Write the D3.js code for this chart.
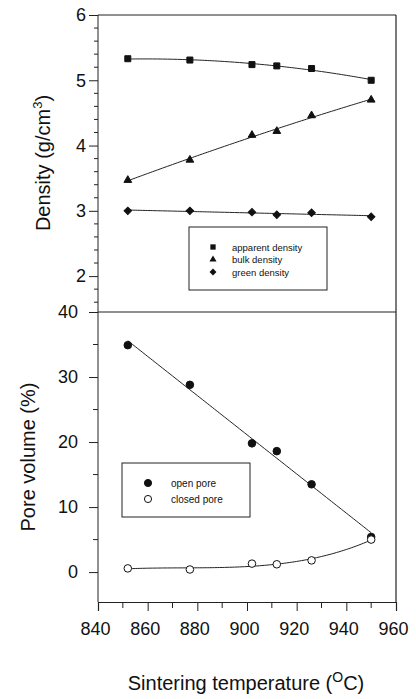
<!DOCTYPE html>
<html><head><meta charset="utf-8">
<script src="https://cdn.jsdelivr.net/npm/d3@7"></script>
<style>body{margin:0;background:#fff}svg{display:block}text{font-family:"Liberation Sans",Arial,sans-serif;fill:#111}</style>
</head><body>
<script>
const temps = [852, 877, 902, 912, 926, 950];
const apparentDensity = [5.33, 5.31, 5.24, 5.22, 5.18, 5.00];
const bulkDensity = [3.47, 3.78, 4.16, 4.22, 4.46, 4.70];
const greenDensity = [3.00, 3.00, 2.98, 2.94, 2.97, 2.91];
const openPore = [34.9, 28.8, 19.8, 18.6, 13.5, 5.4];
const closedPore = [0.57, 0.4, 1.3, 1.2, 1.8, 5.0];
const xTicks = [840, 860, 880, 900, 920, 940, 960];
const densityTicks = [2, 3, 4, 5, 6];
const poreTicks = [0, 10, 20, 30, 40];

const W = 416, H = 699;
const svg = d3.select("body").append("svg").attr("width", W).attr("height", H);

const x = d3.scaleLinear().domain([840, 960]).range([98, 396]);
const yTop = d3.scaleLinear().domain([1.45, 6]).range([312, 15]);
const yBot = d3.scaleLinear().domain([-4.6, 40]).range([602, 312]);

function polyfit(xs, ys, deg) {
  const n = deg + 1;
  const t = xs.map(v => (v - 900) / 50);
  const A = Array.from({length: n}, () => new Array(n + 1).fill(0));
  for (let i = 0; i < t.length; i++) {
    for (let r = 0; r < n; r++) {
      for (let c = 0; c < n; c++) A[r][c] += Math.pow(t[i], r + c);
      A[r][n] += ys[i] * Math.pow(t[i], r);
    }
  }
  for (let p = 0; p < n; p++) {
    let m = p;
    for (let r = p + 1; r < n; r++) if (Math.abs(A[r][p]) > Math.abs(A[m][p])) m = r;
    [A[p], A[m]] = [A[m], A[p]];
    for (let r = 0; r < n; r++) {
      if (r === p) continue;
      const f = A[r][p] / A[p][p];
      for (let c = p; c <= n; c++) A[r][c] -= f * A[p][c];
    }
  }
  const coef = A.map((row, i) => row[n] / row[i]);
  return v => { const tt = (v - 900) / 50; return coef.reduce((s, c, i) => s + c * Math.pow(tt, i), 0); };
}

function fitLine(g, xs, ys, deg, y) {
  const f = polyfit(xs, ys, deg);
  const pts = d3.range(xs[0], xs[xs.length - 1] + 0.01, 1).map(v => [v, f(v)]);
  g.append("path").datum(pts)
    .attr("d", d3.line().x(d => x(d[0])).y(d => y(d[1])).curve(d3.curveLinear))
    .attr("fill", "none").attr("stroke", "#222").attr("stroke-width", 1);
}

const frame = "#222";
const g = svg.append("g");

// Frames
g.append("line").attr("x1", x(840)).attr("x2", x(960)).attr("y1", yTop(6)).attr("y2", yTop(6)).attr("stroke", frame).attr("stroke-width", 1.2);
g.append("line").attr("x1", x(960)).attr("x2", x(960)).attr("y1", yTop(6)).attr("y2", yBot(-4.6)).attr("stroke", frame).attr("stroke-width", 1.2);
g.append("line").attr("x1", x(840)).attr("x2", x(960)).attr("y1", 312).attr("y2", 312).attr("stroke", frame).attr("stroke-width", 1.2);

// Top Y axis
const axTop = g.append("g").attr("transform", `translate(${x(840)},0)`)
  .call(d3.axisLeft(yTop).tickValues(densityTicks).tickSize(9).tickPadding(3).tickFormat(d3.format("d")));
axTop.select(".domain").remove();
g.append("line").attr("x1", x(840)).attr("x2", x(840)).attr("y1", yTop(6)).attr("y2", 312).attr("stroke", frame);
const minorTop = d3.range(1.6, 6.0, 0.2).filter(v => Math.abs(v - Math.round(v)) > 0.05);
g.selectAll(".mt").data(minorTop).join("line")
  .attr("x1", x(840) - 4).attr("x2", x(840)).attr("y1", d => yTop(d)).attr("y2", d => yTop(d)).attr("stroke", frame);

// Bottom Y axis
const axBot = g.append("g").attr("transform", `translate(${x(840)},0)`)
  .call(d3.axisLeft(yBot).tickValues(poreTicks).tickSize(9).tickPadding(11).tickFormat(d3.format("d")));
axBot.select(".domain").remove();
g.append("line").attr("x1", x(840)).attr("x2", x(840)).attr("y1", 312).attr("y2", 602).attr("stroke", frame);
g.selectAll(".mb").data([5, 15, 25, 35]).join("line")
  .attr("x1", x(840) - 5).attr("x2", x(840)).attr("y1", d => yBot(d)).attr("y2", d => yBot(d)).attr("stroke", frame);

// X axis
const axX = g.append("g").attr("transform", `translate(0,602)`)
  .call(d3.axisBottom(x).tickValues(xTicks).tickSize(9).tickPadding(11).tickFormat(d3.format("d")));
axX.select(".domain").attr("stroke", frame).attr("stroke-width", 1.2);
g.selectAll(".mx").data(d3.range(850, 960, 20)).join("line")
  .attr("x1", d => x(d)).attr("x2", d => x(d)).attr("y1", 602).attr("y2", 608).attr("stroke", frame);

svg.selectAll(".tick text").attr("font-size", 18).attr("font-family", "Liberation Sans, Arial, sans-serif").attr("fill", "#111");
svg.selectAll(".tick line").attr("stroke", frame);
axX.selectAll(".tick text").attr("dx", -3);

// Top panel fit lines
fitLine(g, temps, apparentDensity, 2, yTop);
fitLine(g, temps, bulkDensity, 2, yTop);
fitLine(g, temps, greenDensity, 1, yTop);
// Bottom panel fit lines
fitLine(g, temps, openPore, 1, yBot);
fitLine(g, temps, closedPore, 3, yBot);

const sym = (type, size) => d3.symbol().type(type).size(size)();
function markers(vals, y, type, size, fill, rot) {
  g.append("g").selectAll("path").data(vals).join("path")
    .attr("transform", (d, i) => `translate(${x(temps[i])},${y(d)}) rotate(${rot || 0})`)
    .attr("d", sym(type, size)).attr("fill", fill).attr("stroke", "#111").attr("stroke-width", 1);
}
markers(apparentDensity, yTop, d3.symbolSquare, 36, "#111");
markers(bulkDensity, yTop, d3.symbolTriangle, 26, "#111");
markers(greenDensity, yTop, d3.symbolSquare, 28, "#111", 45);
markers(openPore, yBot, d3.symbolCircle, 45, "#111");
markers(closedPore, yBot, d3.symbolCircle, 45, "#fff");

// Top legend
const lt = g.append("g");
lt.append("rect").attr("x", 189).attr("y", 227).attr("width", 138).attr("height", 63).attr("fill", "#fff").attr("stroke", frame);
const topLeg = [["apparent density", d3.symbolSquare, 28, 0], ["bulk density", d3.symbolTriangle, 22, 0], ["green density", d3.symbolSquare, 24, 45]];
topLeg.forEach((e, i) => {
  const yy = 247 + i * 12.5;
  lt.append("path").attr("transform", `translate(213,${yy}) rotate(${e[3]})`).attr("d", sym(e[1], e[2])).attr("fill", "#111");
  lt.append("text").attr("x", 232).attr("y", yy + 3.5).attr("font-size", 9.5).text(e[0]);
});

// Bottom legend
const lb = g.append("g");
lb.append("rect").attr("x", 122).attr("y", 463).attr("width", 128).attr("height", 54).attr("fill", "#fff").attr("stroke", frame);
[["open pore", "#111"], ["closed pore", "#fff"]].forEach((e, i) => {
  const yy = 483 + i * 16;
  lb.append("path").attr("transform", `translate(148,${yy})`).attr("d", sym(d3.symbolCircle, 40)).attr("fill", e[1]).attr("stroke", "#111");
  lb.append("text").attr("x", 171).attr("y", yy + 3.5).attr("font-size", 10).text(e[0]);
});

// Axis titles
const t1 = svg.append("text").attr("transform", "translate(50,163) rotate(-90)").attr("text-anchor", "middle").attr("font-size", 20);
t1.append("tspan").text("Density (g/cm");
t1.append("tspan").attr("dy", -8).attr("font-size", 13).text("3");
t1.append("tspan").attr("dy", 8).text(")");

svg.append("text").attr("transform", "translate(35,457) rotate(-90)").attr("text-anchor", "middle").attr("font-size", 20).text("Pore volume (%)");

const t3 = svg.append("text").attr("x", 246).attr("y", 690).attr("text-anchor", "middle").attr("font-size", 20);
t3.append("tspan").text("Sintering temperature (");
t3.append("tspan").attr("dy", -8).attr("font-size", 14).text("O");
t3.append("tspan").attr("dy", 8).text("C)");
</script>
</body></html>
